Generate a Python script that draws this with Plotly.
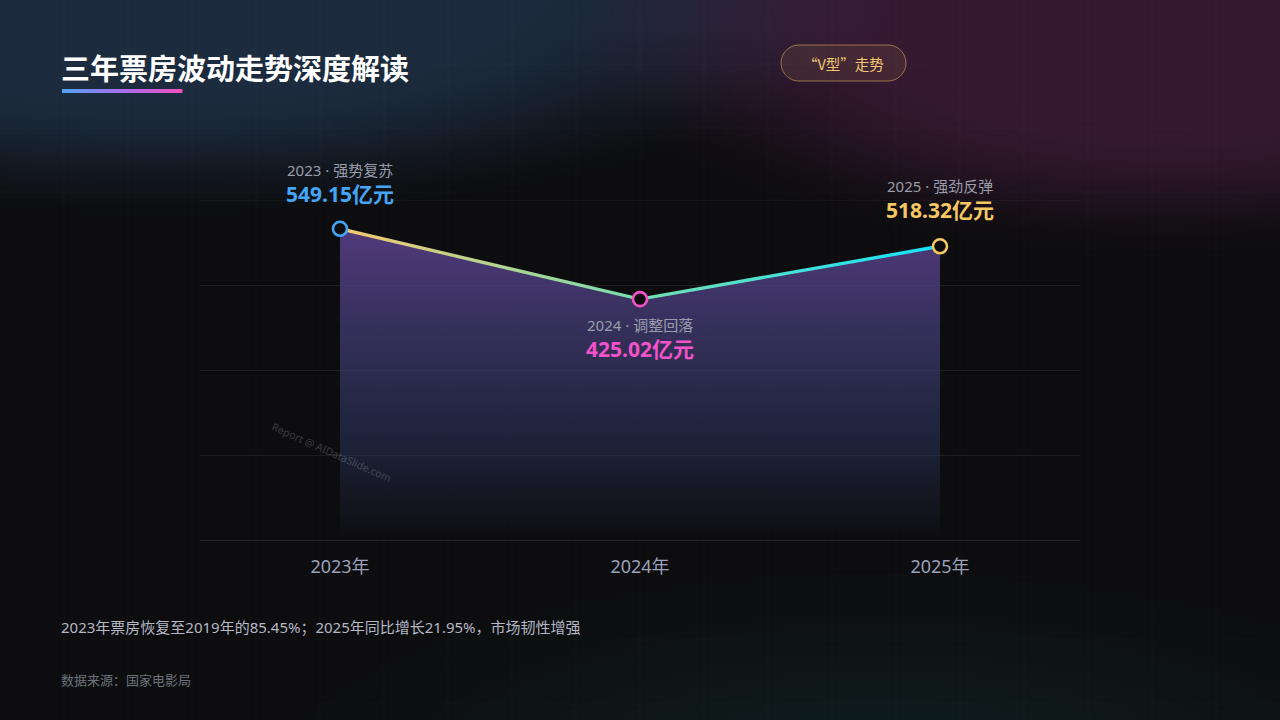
import base64, zlib, struct, math
import numpy as np
import plotly.graph_objects as go

# ---------------- data ----------------
years = ["2023年", "2024年", "2025年"]
box_office = [549.15, 425.02, 518.32]          # 亿元
phase_labels = ["2023 · 强势复苏", "2024 · 调整回落", "2025 · 强劲反弹"]
value_labels = ["549.15亿元", "425.02亿元", "518.32亿元"]
point_colors = ["#45a5f5", "#f452c8", "#f5c862"]
y_ticks = [0, 150, 300, 450, 600]
title_text = "三年票房波动走势深度解读"
badge_text = "“V型”走势"
note_text = "2023年票房恢复至2019年的85.45%；2025年同比增长21.95%，市场韧性增强"
source_text = "数据来源：国家电影局"
watermark = "Report @ AIDataSlide.com"

W, H = 1280, 720
FONT = "Noto Sans CJK SC"
FONT_MIX = "Noto Sans, Noto Sans CJK SC"
idx = list(range(len(years)))

# ---------------- background glow image ----------------
def make_bg(w=320, h=180):
    ys, xs = np.mgrid[0:h, 0:w]
    X = (xs + 0.5) * W / w
    Y = (ys + 0.5) * H / h
    img = np.zeros((h, w, 3)) + np.array([13, 13, 15], float)

    def glow(cx, cy, rx, ry, amp, soft):
        d = np.sqrt(((X - cx) / rx) ** 2 + ((Y - cy) / ry) ** 2)
        t = np.clip((1 - d) / soft, 0, 1)
        t = t * t * (3 - 2 * t)
        return t[..., None] * np.array(amp, float)

    img += glow(160, -10, 780, 240, [15, 30, 46], 0.55)
    img += glow(1170, 20, 640, 245, [40, 12, 34], 0.55)
    img += glow(880, 780, 700, 240, [0, 14, 13], 0.85)
    return np.clip(img, 0, 255).astype(np.uint8)


def to_png(a):
    h, w, _ = a.shape
    raw = b"".join(b"\x00" + a[i].tobytes() for i in range(h))

    def chunk(t, d):
        c = struct.pack(">I", len(d)) + t + d
        return c + struct.pack(">I", zlib.crc32(t + d) & 0xFFFFFFFF)

    return (b"\x89PNG\r\n\x1a\n"
            + chunk(b"IHDR", struct.pack(">IIBBBBB", w, h, 8, 2, 0, 0, 0))
            + chunk(b"IDAT", zlib.compress(raw, 9))
            + chunk(b"IEND", b""))


bg_uri = "data:image/png;base64," + base64.b64encode(to_png(make_bg())).decode()

def px(x):
    return x / W

def py(y):
    return 1 - y / H

# ---------------- figure ----------------
fig = go.Figure()

# area under line
fig.add_trace(go.Scatter(
    x=idx, y=box_office, fill="tozeroy", mode="none",
    fillgradient=dict(type="vertical", colorscale=[
        [0.0, "rgba(30,36,60,0.0)"],
        [0.06, "rgba(40,46,75,0.15)"],
        [0.27, "rgba(48,60,110,0.4)"],
        [0.55, "rgba(65,65,123,0.6)"],
        [1.0, "rgba(98,69,151,0.8)"],
    ]),
    hoverinfo="skip", showlegend=False,
))

# gradient line drawn as a thin band around the data
half = 3.0
band_x = idx + idx[::-1]
band_y = [v + half for v in box_office] + [v - half for v in box_office[::-1]]
fig.add_trace(go.Scatter(
    x=band_x, y=band_y, fill="toself", mode="none",
    fillgradient=dict(type="horizontal", colorscale=[
        [0.0, "#f5c86c"], [0.5, "#76dfb2"], [1.0, "#14e3fa"]]),
    hoverinfo="skip", showlegend=False,
))

# markers
fig.add_trace(go.Scatter(
    x=idx, y=box_office, mode="markers",
    marker=dict(size=14, color="#0d0d10", line=dict(width=2.6, color=point_colors)),
    hoverinfo="skip", showlegend=False,
))

# point labels
label_shift = [(59, 35), (-26, -50), (60, 36)]
annotations = []
for i, v in enumerate(box_office):
    s1, s2 = label_shift[i]
    annotations.append(dict(x=idx[i], y=v, xref="x", yref="y", text=phase_labels[i],
                            showarrow=False, yshift=s1, yanchor="middle", borderpad=0,
                            font=dict(family=FONT_MIX, size=15, color="#9a9cab")))
    annotations.append(dict(x=idx[i], y=v, xref="x", yref="y", text="<b>%s</b>" % value_labels[i],
                            showarrow=False, yshift=s2, yanchor="middle", borderpad=0,
                            font=dict(family=FONT_MIX, size=21, color=point_colors[i])))

# title & texts
annotations += [
    dict(x=px(59), y=py(67), xref="paper", yref="paper", xanchor="left", yanchor="middle",
         text="<b>%s</b>" % title_text, showarrow=False,
         font=dict(family=FONT, size=29, color="#ffffff")),
    dict(x=px(843.5), y=py(63), xref="paper", yref="paper", xanchor="center", yanchor="middle",
         text=badge_text, showarrow=False, font=dict(family=FONT, size=14.5, color="#f2c872")),
    dict(x=px(59), y=py(627), xref="paper", yref="paper", xanchor="left", yanchor="middle",
         text=note_text, showarrow=False, font=dict(family=FONT_MIX, size=15, color="#b4b8c4")),
    dict(x=px(59), y=py(679), xref="paper", yref="paper", xanchor="left", yanchor="middle",
         text=source_text, showarrow=False, font=dict(family=FONT, size=13, color="#6e727c")),
    dict(x=px(331), y=py(452), xref="paper", yref="paper", xanchor="center", yanchor="middle",
         text=watermark, showarrow=False, textangle=24,
         font=dict(family=FONT_MIX, size=10.5, color="rgba(255,255,255,0.2)")),
]

shapes = []
# page grid
for gx in range(64, W, 64):
    shapes.append(dict(type="line", xref="paper", yref="paper", x0=px(gx), x1=px(gx), y0=0, y1=1,
                       line=dict(color="rgba(255,255,255,0.028)", width=1), layer="below"))
for gy in range(64, H, 64):
    shapes.append(dict(type="line", xref="paper", yref="paper", x0=0, x1=1, y0=py(gy), y1=py(gy),
                       line=dict(color="rgba(255,255,255,0.028)", width=1), layer="below"))

# top value grid line (plotly skips the gridline lying on the plot edge)
shapes.append(dict(type="line", xref="x domain", yref="y", x0=0, x1=1, y0=y_ticks[-1], y1=y_ticks[-1],
                   line=dict(color="rgba(255,255,255,0.075)", width=1), layer="below"))

# title underline gradient
c0, c1, c2 = np.array([77, 163, 247]), np.array([170, 110, 240]), np.array([242, 80, 190])
nseg = 30
x_start, x_end = 62, 182
for k in range(nseg):
    t = (k + 0.5) / nseg
    c = c0 + (c1 - c0) * (t / 0.5) if t < 0.5 else c1 + (c2 - c1) * ((t - 0.5) / 0.5)
    xa = x_start + (x_end - x_start) * k / nseg
    xb = x_start + (x_end - x_start) * (k + 1) / nseg + 0.4
    shapes.append(dict(type="rect", xref="paper", yref="paper",
                       x0=px(xa), x1=px(xb), y0=py(93), y1=py(89),
                       fillcolor="rgb(%d,%d,%d)" % tuple(c.astype(int)), line=dict(width=0)))

# badge pill
def pill_path(x0, y0, x1, y1):
    r = (y1 - y0) / 2
    pts = []
    for a in np.linspace(-90, 90, 19):
        pts.append((x1 - r + r * math.cos(math.radians(a)), y0 + r + r * math.sin(math.radians(a))))
    for a in np.linspace(90, 270, 19):
        pts.append((x0 + r + r * math.cos(math.radians(a)), y0 + r + r * math.sin(math.radians(a))))
    p = "M " + " L ".join("%.5f,%.5f" % (px(a), py(b)) for a, b in pts) + " Z"
    return p

shapes.append(dict(type="path", xref="paper", yref="paper", path=pill_path(781, 45, 906, 81),
                   fillcolor="rgba(230,180,90,0.10)",
                   line=dict(color="rgba(220,170,90,0.6)", width=1)))

fig.update_layout(
    width=W, height=H, autosize=False,
    margin=dict(l=0, r=0, t=0, b=0),
    paper_bgcolor="#0d0d0f", plot_bgcolor="rgba(0,0,0,0)",
    showlegend=False,
    font=dict(family=FONT),
    images=[dict(source=bg_uri, xref="paper", yref="paper", x=0, y=1, sizex=1, sizey=1,
                 sizing="stretch", xanchor="left", yanchor="top", layer="below")],
    xaxis=dict(domain=[px(200), px(1080)], range=[-0.4667, 2.4667],
               tickvals=idx, ticktext=years, showgrid=False, zeroline=False, showline=False,
               ticks="", ticklabelstandoff=14,
               tickfont=dict(family=FONT_MIX, size=18, color="#9aa1b9"), fixedrange=True),
    yaxis=dict(domain=[py(540), py(200)], range=[y_ticks[0], y_ticks[-1]], tickvals=y_ticks,
               showticklabels=False, ticks="", showgrid=True,
               gridcolor="rgba(255,255,255,0.075)", gridwidth=1,
               zeroline=True, zerolinecolor="rgba(255,255,255,0.1)", zerolinewidth=1,
               showline=False, fixedrange=True),
    annotations=annotations,
    shapes=shapes,
)

fig.write_html("out.html", config={"displayModeBar": False},
               post_script="document.body.style.margin='0px';document.body.style.overflow='hidden';")
